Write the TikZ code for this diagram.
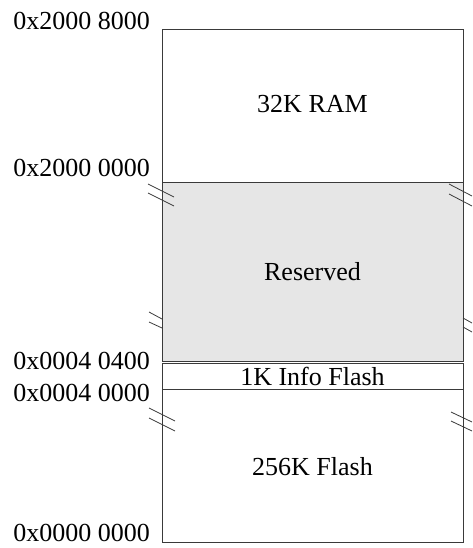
\documentclass[tikz,border=0pt]{standalone}
\usepackage{fontspec}
\setmainfont{Liberation Serif}
\definecolor{edge}{HTML}{3A3A3A}
\definecolor{resfill}{HTML}{E6E6E6}
\begin{document}
\begin{tikzpicture}[x=1pt,y=-1pt,
  memblock/.style={draw=edge,line width=1pt,minimum width=301pt,inner sep=0pt,outer sep=0pt,anchor=north west},
  addr/.style={anchor=base east,inner sep=0pt,font=\fontsize{26}{30}\selectfont},
  blabel/.style={anchor=base,inner sep=0pt,font=\fontsize{26}{30}\selectfont},
  brk/.style={draw=edge,line width=0.8pt}]
\useasboundingbox (0,0) rectangle (472,548);
\node[memblock,minimum height=152pt] (ram) at (162,30) {};
\node[memblock,minimum height=179pt,fill=resfill] (res) at (162,182) {};
\node[memblock,minimum height=26pt] (info) at (162,363) {};
\node[memblock,minimum height=153pt] (flash) at (162,389) {};
\node[blabel] (tram) at (312.5,113) {32K RAM};
\node[blabel] (tres) at (312.5,280) {Reserved};
\node[blabel] (tinfo) at (312.5,385) {1K Info Flash};
\node[blabel] (tflash) at (312.5,475) {256K Flash};
\node[addr] (a1) at (150,30) {0x2000 8000};
\node[addr] (a2) at (150,176) {0x2000 0000};
\node[addr] (a3) at (150,369) {0x0004 0400};
\node[addr] (a4) at (150,401) {0x0004 0000};
\node[addr] (a5) at (150,541) {0x0000 0000};
% break marks
\draw[brk] (148,184) -- (174,197) (148,193) -- (174,206);
\draw[brk] (449,184) -- (472,196) (449,194) -- (472,206);
\draw[brk] (149,312) -- (162,319) (149,322) -- (162,328);
\draw[brk] (463,318) -- (472,323) (463,327) -- (472,332);
\draw[brk] (149,408) -- (175,421) (149,418) -- (175,431);
\draw[brk] (451,412) -- (472,422) (451,421) -- (472,431);
\end{tikzpicture}
\end{document}
